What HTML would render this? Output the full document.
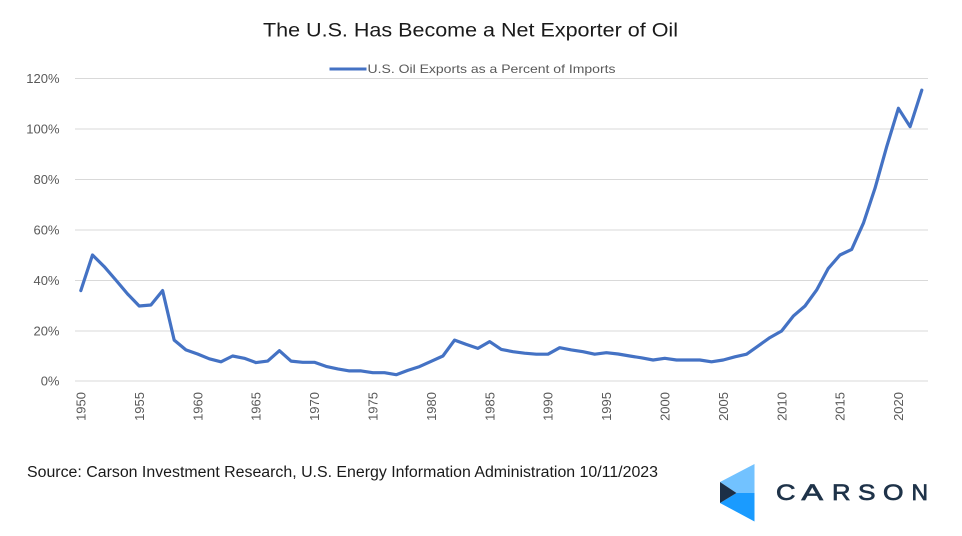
<!DOCTYPE html>
<html>
<head>
<meta charset="utf-8">
<style>
  html,body{margin:0;padding:0;background:#fff;}
  svg{display:block;}
  text{font-family:"Liberation Sans", sans-serif;}
</style>
</head>
<body>
<svg width="962" height="536" viewBox="0 0 962 536" xmlns="http://www.w3.org/2000/svg">
  <rect width="962" height="536" fill="#fff"/>
  <!-- Title -->
  <text x="263" y="36.5" font-size="19" fill="#1a1a1a" textLength="415" lengthAdjust="spacingAndGlyphs">The U.S. Has Become a Net Exporter of Oil</text>
  <!-- Legend -->
  <line x1="329.5" y1="69" x2="366.5" y2="69" stroke="#4472c4" stroke-width="3"/>
  <text x="367.5" y="73.2" font-size="12" fill="#595959" textLength="248" lengthAdjust="spacingAndGlyphs">U.S. Oil Exports as a Percent of Imports</text>
  <!-- Gridlines -->
  <g stroke="#d9d9d9" stroke-width="1">
    <line x1="75" y1="78.5" x2="928" y2="78.5"/>
    <line x1="75" y1="129" x2="928" y2="129"/>
    <line x1="75" y1="179.5" x2="928" y2="179.5"/>
    <line x1="75" y1="230" x2="928" y2="230"/>
    <line x1="75" y1="280.5" x2="928" y2="280.5"/>
    <line x1="75" y1="331" x2="928" y2="331"/>
    <line x1="75" y1="381" x2="928" y2="381"/>
  </g>
  <!-- Y labels -->
  <g font-size="13" fill="#595959" text-anchor="end">
    <text x="59.5" y="83.2">120%</text>
    <text x="59.5" y="133.7">100%</text>
    <text x="59.5" y="184.2">80%</text>
    <text x="59.5" y="234.7">60%</text>
    <text x="59.5" y="285.2">40%</text>
    <text x="59.5" y="335.7">20%</text>
    <text x="59.5" y="385.7">0%</text>
  </g>
  <!-- X labels -->
  <g font-size="13" fill="#595959" text-anchor="end">
    <text transform="translate(85.5,392) rotate(-90)">1950</text>
    <text transform="translate(143.9,392) rotate(-90)">1955</text>
    <text transform="translate(202.3,392) rotate(-90)">1960</text>
    <text transform="translate(260.7,392) rotate(-90)">1965</text>
    <text transform="translate(319.1,392) rotate(-90)">1970</text>
    <text transform="translate(377.5,392) rotate(-90)">1975</text>
    <text transform="translate(435.9,392) rotate(-90)">1980</text>
    <text transform="translate(494.3,392) rotate(-90)">1985</text>
    <text transform="translate(552.7,392) rotate(-90)">1990</text>
    <text transform="translate(611.1,392) rotate(-90)">1995</text>
    <text transform="translate(669.5,392) rotate(-90)">2000</text>
    <text transform="translate(727.9,392) rotate(-90)">2005</text>
    <text transform="translate(786.3,392) rotate(-90)">2010</text>
    <text transform="translate(844.7,392) rotate(-90)">2015</text>
    <text transform="translate(903.1,392) rotate(-90)">2020</text>
  </g>
  <!-- Series -->
  <polyline fill="none" stroke="#4472c4" stroke-width="3.2" stroke-linejoin="round" stroke-linecap="round"
    points="80.8,290.6 92.5,255.0 104.2,266.6 115.8,280.0 127.5,293.9 139.2,306.0 150.9,305.0 162.6,290.6 174.2,340.1 185.9,349.9 197.6,354.0 209.3,358.8 221.0,361.8 232.6,356.0 244.3,358.3 256.0,362.6 267.7,361.1 279.4,350.7 291.0,361.1 302.7,362.3 314.4,362.3 326.1,366.4 337.8,368.9 349.4,370.9 361.1,370.9 372.8,372.7 384.5,372.7 396.2,374.7 407.8,370.4 419.5,366.6 431.2,361.3 442.9,356.0 454.6,340.1 466.2,344.4 477.9,348.4 489.6,341.6 501.3,349.4 513.0,351.7 524.6,353.2 536.3,354.2 548.0,354.2 559.7,347.7 571.4,349.9 583.0,351.7 594.7,354.2 606.4,352.7 618.1,354.0 629.8,356.0 641.4,357.8 653.1,360.0 664.8,358.3 676.5,360.0 688.2,360.0 699.8,360.0 711.5,361.8 723.2,360.0 734.9,356.8 746.6,354.2 758.2,345.9 769.9,337.6 781.6,331.0 793.3,316.1 805.0,306.0 816.6,290.1 828.3,268.4 840.0,255.0 851.7,249.4 863.4,223.2 875.0,188.3 886.7,146.7 898.4,108.3 910.1,126.7 921.8,90.1"/>
  <!-- Source -->
  <text x="27" y="477" font-size="15.5" fill="#1a1a1a" textLength="631" lengthAdjust="spacingAndGlyphs">Source: Carson Investment Research, U.S. Energy Information Administration 10/11/2023</text>
  <!-- Logo -->
  <polygon points="754.5,464 754.5,493 736.5,493 720,482" fill="#72c2ff"/>
  <polygon points="736.5,493 754.5,493 754.5,521.5 720,503" fill="#1a9bff"/>
  <polygon points="720,482 736.5,493 720,503" fill="#1c2f46"/>
  <g font-size="22.5" fill="#1f3349" stroke="#1f3349" stroke-width="0.7">
    <text x="776" y="500" textLength="19.5" lengthAdjust="spacingAndGlyphs">C</text>
    <text x="801.5" y="500" textLength="21.5" lengthAdjust="spacingAndGlyphs">A</text>
    <text x="832" y="500" textLength="18.5" lengthAdjust="spacingAndGlyphs">R</text>
    <text x="858" y="500" textLength="17.5" lengthAdjust="spacingAndGlyphs">S</text>
    <text x="883" y="500" textLength="20.5" lengthAdjust="spacingAndGlyphs">O</text>
    <text x="911.5" y="500" textLength="16.5" lengthAdjust="spacingAndGlyphs">N</text>
  </g>
</svg>
</body>
</html>
